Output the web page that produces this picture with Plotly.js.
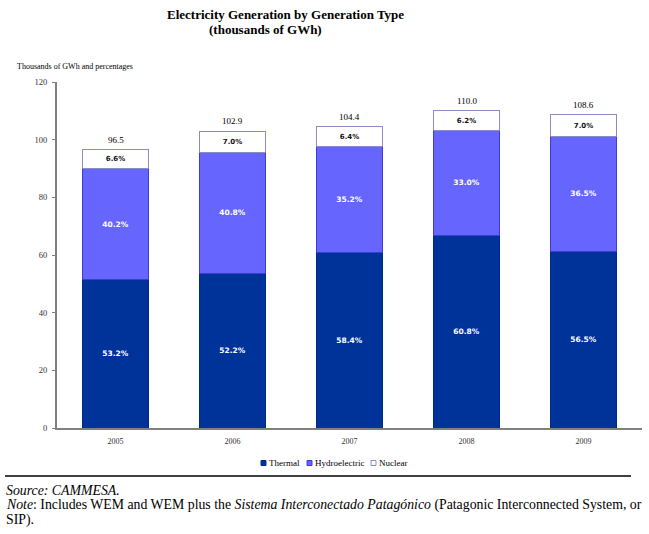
<!DOCTYPE html>
<html>
<head>
<meta charset="utf-8">
<script src="https://cdn.plot.ly/plotly-3.0.1.min.js"></script>
<style>
html,body{margin:0;padding:0;background:#fff;}
#chart{width:649px;height:534px;}
</style>
</head>
<body>
<div id="chart"></div>
<script>
// Data
const years = ['2005', '2006', '2007', '2008', '2009'];
const totals = [96.5, 102.9, 104.4, 110.0, 108.6];
const thermalPct = [53.2, 52.2, 58.4, 60.8, 56.5];
const hydroPct = [40.2, 40.8, 35.2, 33.0, 36.5];
const nuclearPct = [6.6, 7.0, 6.4, 6.2, 7.0];
const seriesNames = ['Thermal', 'Hydroelectric', 'Nuclear'];

const toValues = (pct) => pct.map((p, i) => totals[i] * p / 100);
const pctText = (pct) => pct.map(p => p.toFixed(1) + '%');

const serif = 'Liberation Serif, Times New Roman, serif';
const sans = 'DejaVu Sans, Verdana, sans-serif';

const styles = [
  {color: '#003399', line: '#002a80', txt: '#ffffff', size: 7.5},
  {color: '#6666ff', line: '#3b3bd6', txt: '#ffffff', size: 7.5},
  {color: '#ffffff', line: '#8c8cc4', txt: '#111111', size: 7}
];
const pcts = [thermalPct, hydroPct, nuclearPct];

const traces = pcts.map((pct, k) => ({
  type: 'bar',
  name: seriesNames[k],
  x: years,
  y: toValues(pct),
  text: pctText(pct),
  textposition: 'inside',
  insidetextanchor: 'middle',
  constraintext: 'none',
  textfont: {family: sans, size: styles[k].size, color: styles[k].txt, weight: 'bold'},
  marker: {color: styles[k].color, line: {color: styles[k].line, width: 1}},
  showlegend: false,
  hoverinfo: 'x+y+name'
}));

// Total labels above bars (x given as category index)
const annotations = years.map((yr, i) => ({
  x: i, y: totals[i], xref: 'x', yref: 'y',
  text: totals[i].toFixed(1),
  showarrow: false, yanchor: 'bottom', yshift: 3,
  font: {family: serif, size: 9, color: '#000'}
}));

const W = 585, H = 346, L = 57, T = 82;
const px = (x) => (x - L) / W;
const py = (y) => (T + H - y) / H;

annotations.push(
  {xref: 'paper', yref: 'paper', x: px(285.5), y: py(15), xanchor: 'center', yanchor: 'middle',
   text: '<b>Electricity Generation by Generation Type</b>', showarrow: false,
   font: {family: serif, size: 13, color: '#000'}},
  {xref: 'paper', yref: 'paper', x: px(265), y: py(30), xanchor: 'center', yanchor: 'middle',
   text: '<b>(thousands of GWh)</b>', showarrow: false,
   font: {family: serif, size: 13, color: '#000'}},
  {xref: 'paper', yref: 'paper', x: px(15), y: py(66), xanchor: 'left', yanchor: 'middle',
   text: 'Thousands of GWh and percentages', showarrow: false,
   font: {family: serif, size: 8, color: '#000'}},
  {xref: 'paper', yref: 'paper', x: px(4), y: py(490), xanchor: 'left', yanchor: 'middle',
   text: '<i>Source: CAMMESA.</i>', showarrow: false,
   font: {family: serif, size: 13.8, color: '#000'}},
  {xref: 'paper', yref: 'paper', x: px(4), y: py(505), xanchor: 'left', yanchor: 'middle',
   text: '<i>Note</i>: Includes WEM and WEM plus the <i>Sistema Interconectado Patagónico</i> (Patagonic Interconnected System, or',
   showarrow: false, font: {family: serif, size: 13.8, color: '#000'}},
  {xref: 'paper', yref: 'paper', x: px(4), y: py(520), xanchor: 'left', yanchor: 'middle',
   text: 'SIP).', showarrow: false, font: {family: serif, size: 13.8, color: '#000'}}
);

// Compact legend (squares + labels) like the reference
const legendX = [261, 307, 371];
const shapes = [];
seriesNames.forEach((nm, k) => {
  shapes.push({type: 'rect', xref: 'paper', yref: 'paper',
    x0: px(legendX[k]), x1: px(legendX[k] + 5), y0: py(465.5), y1: py(460.5),
    fillcolor: styles[k].color, line: {color: styles[k].line, width: 1}});
  annotations.push({xref: 'paper', yref: 'paper', x: px(legendX[k] + 6), y: py(463),
    xanchor: 'left', yanchor: 'middle', text: nm, showarrow: false,
    font: {family: serif, size: 9, color: '#000'}});
});
shapes.push({type: 'line', xref: 'paper', yref: 'paper', x0: px(5), x1: px(631),
  y0: py(476), y1: py(476), line: {color: '#000', width: 1.5}});

const layout = {
  width: 649, height: 534,
  margin: {l: L, r: 649 - L - W, t: T, b: 534 - T - H},
  paper_bgcolor: '#fff', plot_bgcolor: '#fff',
  barmode: 'stack',
  bargap: 0.43,
  showlegend: false,
  xaxis: {type: 'category', range: [-0.5, 4.5], showline: true, linecolor: '#808080', linewidth: 2,
          ticks: '', ticklabelstandoff: 4, tickfont: {family: serif, size: 8, color: '#333'},
          showgrid: false, zeroline: false},
  yaxis: {range: [0, 120], dtick: 20, showline: true, linecolor: '#808080', linewidth: 2,
          ticks: 'outside', ticklen: 3, tickcolor: '#808080', ticklabelstandoff: 3,
          tickfont: {family: serif, size: 8.5, color: '#333'},
          showgrid: false, zeroline: false},
  annotations: annotations,
  shapes: shapes
};

Plotly.newPlot('chart', traces, layout, {displayModeBar: false, responsive: false});
</script>
</body>
</html>
